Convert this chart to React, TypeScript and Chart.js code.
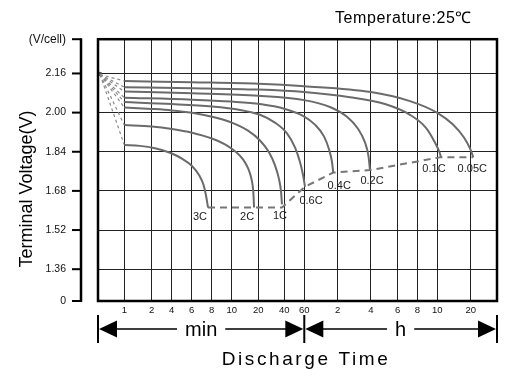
import React, { useEffect, useRef } from 'react';
import { Chart, registerables } from 'chart.js';

Chart.register(...registerables);

const FONT = '"Liberation Sans", Arial, Helvetica, sans-serif';

// Hand-drawn time axis of the original: minutes at each break and where it sits (fraction of width)
const axisMinutes = [0, 1, 2, 4, 6, 8, 10, 20, 40, 60, 120, 240, 360, 480, 600, 1200, 1800];
const axisFractions = [0, 0.0659, 0.1346, 0.1847, 0.2348, 0.285, 0.3351, 0.4018, 0.4669, 0.517, 0.6007, 0.6842, 0.7511, 0.8003, 0.8504, 0.9341, 1];

const xTickMinutes = [1, 2, 4, 6, 8, 10, 20, 40, 60, 120, 240, 360, 480, 600, 1200];
const xTickLabels = ['1', '2', '4', '6', '8', '10', '20', '40', '60', '2', '4', '6', '8', '10', '20'];

const yTickValues = [1.23, 1.36, 1.52, 1.68, 1.84, 2.0, 2.16, 2.3];
const yTickLabels = ['0', '1.36', '1.52', '1.68', '1.84', '2.00', '2.16', '(V/cell)'];

const rateLabels = ['3C', '2C', '1C', '0.6C', '0.4C', '0.2C', '0.1C', '0.05C'];

const min3C = [1, 1.57, 2.33, 3.83, 5.03, 6.03, 6.73, 7.18, 7.43, 7.58, 7.63];
const volt3C = [1.868, 1.864, 1.854, 1.836, 1.812, 1.782, 1.745, 1.705, 1.661, 1.625, 1.612];
const min2C = [1, 2, 4.03, 6.03, 8.03, 9.33, 11.24, 14.25, 16.13, 17.44, 18.12, 18.4];
const volt2C = [1.949, 1.943, 1.933, 1.918, 1.894, 1.87, 1.842, 1.809, 1.773, 1.728, 1.676, 1.612];
const min1C = [1, 2, 4.03, 6.03, 8.03, 10.03, 16.13, 21.3, 28.2, 32.8, 35.9, 37.5, 38.2];
const volt1C = [2.021, 2.015, 2.009, 1.999, 1.983, 1.959, 1.926, 1.886, 1.838, 1.785, 1.729, 1.677, 1.625];
const min06C = [1, 4.03, 8.03, 13.1, 21.3, 32.8, 42.7, 50.7, 55.7, 58.7, 61.3];
const volt06C = [2.043, 2.035, 2.025, 2.011, 1.991, 1.959, 1.915, 1.858, 1.798, 1.746, 1.697];
const min04C = [1, 6.03, 10, 21.3, 40.7, 58.7, 79.2, 95.4, 104.4, 109.8, 112];
const volt04C = [2.061, 2.053, 2.045, 2.035, 2.015, 1.987, 1.951, 1.903, 1.85, 1.798, 1.755];
const min02C = [1, 6.03, 20, 60, 106.1, 153.5, 193.2, 218.4, 231, 236.4];
const volt02C = [2.086, 2.079, 2.069, 2.051, 2.023, 1.983, 1.934, 1.878, 1.822, 1.765];
const min01C = [1, 6, 20, 60, 164.3, 302.9, 435.3, 532, 586, 639.5, 666];
const volt01C = [2.104, 2.1, 2.094, 2.084, 2.063, 2.035, 1.991, 1.938, 1.878, 1.838, 1.818];
const min005C = [1, 6, 20, 60, 240, 435.3, 600, 881.9, 1079, 1187, 1259];
const volt005C = [2.129, 2.124, 2.118, 2.108, 2.084, 2.047, 1.999, 1.951, 1.898, 1.854, 1.818];

const endMinutes = [7.63, 18.4, 38.2, 61.3, 112, 236.4, 666, 1259];
const endVolts = [1.612, 1.612, 1.612, 1.697, 1.755, 1.765, 1.818, 1.818];

const fanOriginMinute = 0.076;
const fanOriginVolt = 2.156;

function warp(m: number): number {
  for (let i = 1; i < axisMinutes.length; i++) {
    if (m <= axisMinutes[i]) {
      const a = axisMinutes[i - 1];
      const b = axisMinutes[i];
      return axisFractions[i - 1] + ((m - a) / (b - a)) * (axisFractions[i] - axisFractions[i - 1]);
    }
  }
  return 1;
}

export default function App() {
  const ref = useRef<HTMLCanvasElement>(null);

  useEffect(() => {
    document.body.style.margin = '0';
    const canvas = ref.current;
    if (!canvas) return;

    const curves = [
      { t: min3C, v: volt3C },
      { t: min2C, v: volt2C },
      { t: min1C, v: volt1C },
      { t: min06C, v: volt06C },
      { t: min04C, v: volt04C },
      { t: min02C, v: volt02C },
      { t: min01C, v: volt01C },
      { t: min005C, v: volt005C },
    ];

    const labelOffsets = [
      [-8, 9], [-7, 9], [-2, 12], [6, 14], [6, 13], [2, 11], [-7, 12], [-1, 12],
    ];

    const datasets: any[] = [];
    curves.forEach((c) => {
      datasets.push({
        data: c.t.map((m, i) => ({ x: warp(m), y: c.v[i] })),
        borderColor: '#6b6b6b',
        borderWidth: 2,
        pointRadius: 0,
        cubicInterpolationMode: 'monotone',
        fill: false,
      });
    });
    curves.forEach((c) => {
      datasets.push({
        data: [
          { x: warp(fanOriginMinute), y: fanOriginVolt },
          { x: warp(c.t[0]), y: c.v[0] },
        ],
        borderColor: '#8a8a8a',
        borderWidth: 1.2,
        borderDash: [3, 3],
        pointRadius: 0,
        fill: false,
      });
    });
    datasets.push({
      data: endMinutes.map((m, i) => ({ x: warp(m), y: endVolts[i] })),
      borderColor: '#777777',
      borderWidth: 2,
      borderDash: [7, 5],
      pointRadius: 0,
      tension: 0,
      fill: false,
    });
    datasets.push({
      data: [{ x: warp(fanOriginMinute * 0.5), y: fanOriginVolt + 0.003 }],
      showLine: false,
      pointStyle: 'triangle',
      pointRotation: -45,
      pointRadius: 3,
      pointBackgroundColor: '#555',
      pointBorderColor: '#555',
    });

    const decor = {
      id: 'decor',
      afterDraw(chart: any) {
        const { ctx, chartArea: a, scales } = chart;
        const ys = scales.y;
        const xs = scales.x;
        ctx.save();

        // rate labels at the end of each curve
        ctx.fillStyle = '#1a1a1a';
        ctx.font = `11px ${FONT}`;
        ctx.textAlign = 'center';
        ctx.textBaseline = 'middle';
        rateLabels.forEach((lab, i) => {
          const meta = chart.getDatasetMeta(i);
          const p = meta.data[meta.data.length - 1];
          ctx.fillText(lab, p.x + labelOffsets[i][0], p.y + labelOffsets[i][1]);
        });

        // plot frame
        ctx.strokeStyle = '#000';
        ctx.lineWidth = 2.5;
        ctx.strokeRect(a.left, a.top, a.right - a.left, a.bottom - a.top);

        // detached y axis
        const ax = 81;
        ctx.beginPath();
        ctx.moveTo(ax, a.top - 1);
        ctx.lineTo(ax, a.bottom + 1);
        ctx.stroke();
        ctx.lineWidth = 2;
        yTickValues.forEach((v) => {
          const y = ys.getPixelForValue(v);
          ctx.beginPath();
          ctx.moveTo(72, y);
          ctx.lineTo(ax, y);
          ctx.stroke();
        });

        // y title
        ctx.save();
        ctx.translate(27, 189);
        ctx.rotate(-Math.PI / 2);
        ctx.fillStyle = '#000';
        ctx.font = `18px ${FONT}`;
        ctx.textAlign = 'center';
        ctx.textBaseline = 'middle';
        ctx.fillText('Terminal Voltage(V)', 0, 0);
        ctx.restore();

        // temperature note
        ctx.fillStyle = '#000';
        ctx.font = `16px ${FONT}`;
        (ctx as any).letterSpacing = '0.6px';
        ctx.textAlign = 'left';
        ctx.textBaseline = 'middle';
        ctx.fillText('Temperature:25\u2103', 335, 19);
        (ctx as any).letterSpacing = '0px';

        // arrows for min / h
        const ay = 329;
        const xL = a.left;
        const xM = xs.getPixelForValue(warp(60));
        const xR = a.right;
        ctx.lineWidth = 2;
        [xL, xM, xR].forEach((x) => {
          ctx.beginPath();
          ctx.moveTo(x, 315);
          ctx.lineTo(x, 343);
          ctx.stroke();
        });
        const head = (tip: number, dir: number) => {
          ctx.beginPath();
          ctx.moveTo(tip, ay);
          ctx.lineTo(tip + dir * 18, ay - 8.5);
          ctx.lineTo(tip + dir * 18, ay + 8.5);
          ctx.closePath();
          ctx.fill();
        };
        head(xL + 1, 1);
        head(xM - 1, -1);
        head(xM + 1, 1);
        head(xR - 1, -1);

        ctx.font = `20px ${FONT}`;
        ctx.textAlign = 'center';
        ctx.textBaseline = 'alphabetic';
        ctx.lineWidth = 1.5;
        const seg = (x0: number, x1: number, text: string) => {
          const cx = (x0 + x1) / 2;
          const w = ctx.measureText(text).width;
          ctx.fillText(text, cx, 336);
          ctx.beginPath();
          ctx.moveTo(x0 + 18, ay);
          ctx.lineTo(cx - w / 2 - 8, ay);
          ctx.moveTo(cx + w / 2 + 8, ay);
          ctx.lineTo(x1 - 18, ay);
          ctx.stroke();
        };
        seg(xL, xM, 'min');
        seg(xM, xR, 'h');

        // x title
        ctx.font = `19px ${FONT}`;
        (ctx as any).letterSpacing = '2.6px';
        ctx.fillText('Discharge Time', 306, 365);
        (ctx as any).letterSpacing = '0px';

        ctx.restore();
      },
    };

    const chart = new Chart(canvas, {
      type: 'line',
      data: { datasets },
      options: {
        animation: false,
        responsive: false,
        devicePixelRatio: 1,
        layout: { padding: { left: 0, right: 23, top: 35, bottom: 0 } },
        plugins: { legend: { display: false }, tooltip: { enabled: false } },
        scales: {
          x: {
            type: 'linear',
            min: 0,
            max: 1,
            border: { display: false },
            grid: { color: '#222', lineWidth: 1, drawTicks: false },
            afterBuildTicks: (s: any) => {
              s.ticks = xTickMinutes.map((m) => ({ value: warp(m) }));
            },
            afterFit: (s: any) => {
              s.height = 79;
            },
            ticks: {
              autoSkip: false,
              maxRotation: 0,
              padding: 4,
              color: '#111',
              font: { family: FONT, size: 9.5 },
              callback: (_v: any, i: number) => xTickLabels[i],
            },
          },
          y: {
            type: 'linear',
            min: 1.23,
            max: 2.3,
            border: { display: false },
            grid: { color: '#222', lineWidth: 1, drawTicks: false },
            afterBuildTicks: (s: any) => {
              s.ticks = yTickValues.map((v) => ({ value: v }));
            },
            afterFit: (s: any) => {
              s.width = 98;
            },
            ticks: {
              padding: 32,
              color: '#111',
              font: (c: any) => ({ family: FONT, size: c.index === yTickValues.length - 1 ? 12 : 10.5 }),
              callback: (_v: any, i: number) => yTickLabels[i],
            },
          },
        },
      },
      plugins: [decor],
    } as any);

    return () => chart.destroy();
  }, []);

  return <canvas ref={ref} width={520} height={380} style={{ display: 'block' }} />;
}
